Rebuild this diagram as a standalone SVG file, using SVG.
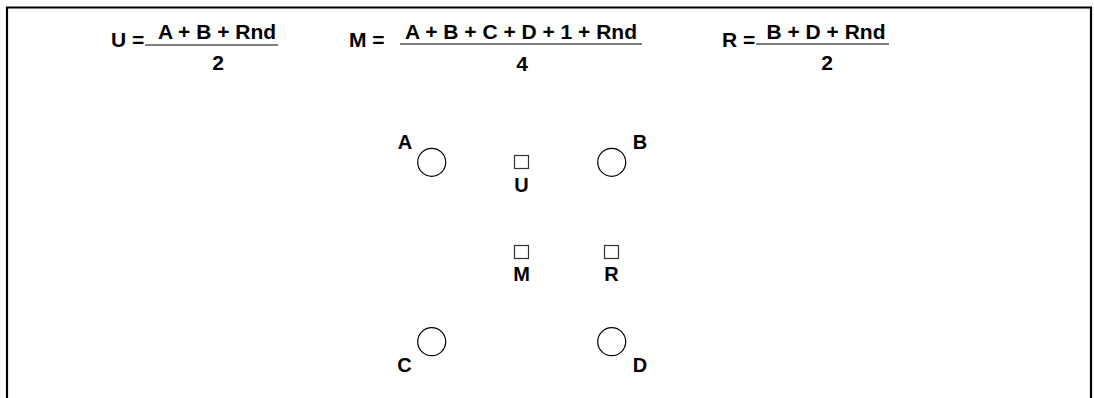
<svg xmlns="http://www.w3.org/2000/svg" width="1094" height="398" viewBox="0 0 1094 398">
<style>
text{font-family:"Liberation Sans",Arial,sans-serif;font-weight:bold;fill:#000}
.f{font-size:21px}
.l{font-size:20px}
.bar{stroke:#000;stroke-width:1.2}
.pt{fill:#fff;stroke:#000;stroke-width:1.2}
.sq{fill:#fff;stroke:#333;stroke-width:1.2}
</style>
<rect width="1094" height="398" fill="#fff"/>
<path d="M7 398V7.5H1091V398" fill="none" stroke="#000" stroke-width="2.2"/>
<g id="formula-U">
<text class="f" x="111" y="47">U =</text>
<line class="bar" x1="145" y1="45" x2="278" y2="45"/>
<text class="f" x="217" y="39" text-anchor="middle">A + B + Rnd</text>
<text class="f" x="218" y="70" text-anchor="middle">2</text>
</g>
<g id="formula-M">
<text class="f" x="349" y="47">M =</text>
<line class="bar" x1="400" y1="44" x2="642" y2="44"/>
<text class="f" x="521" y="39" text-anchor="middle">A + B + C + D + 1 + Rnd</text>
<text class="f" x="522" y="71" text-anchor="middle">4</text>
</g>
<g id="formula-R">
<text class="f" x="722" y="47">R =</text>
<line class="bar" x1="756" y1="44" x2="889" y2="44"/>
<text class="f" x="826" y="39" text-anchor="middle">B + D + Rnd</text>
<text class="f" x="827" y="70" text-anchor="middle">2</text>
</g>
<g id="connectors"/>
<g id="node-A">
<circle class="pt" cx="431.7" cy="162.3" r="14"/>
<text class="l" x="405" y="149" text-anchor="middle">A</text>
</g>
<g id="node-B">
<circle class="pt" cx="611.7" cy="162.3" r="14"/>
<text class="l" x="640" y="149" text-anchor="middle">B</text>
</g>
<g id="node-C">
<circle class="pt" cx="431.7" cy="341.7" r="14"/>
<text class="l" x="404.5" y="372" text-anchor="middle">C</text>
</g>
<g id="node-D">
<circle class="pt" cx="611.7" cy="341.7" r="14"/>
<text class="l" x="640" y="372" text-anchor="middle">D</text>
</g>
<g id="node-U">
<rect class="sq" x="514.5" y="155.5" width="14" height="13"/>
<text class="l" x="521.5" y="192" text-anchor="middle">U</text>
</g>
<g id="node-M">
<rect class="sq" x="514.5" y="245.5" width="14" height="13"/>
<text class="l" x="521.5" y="281" text-anchor="middle">M</text>
</g>
<g id="node-R">
<rect class="sq" x="604.5" y="245.5" width="14" height="13"/>
<text class="l" x="611.5" y="281" text-anchor="middle">R</text>
</g>
</svg>
